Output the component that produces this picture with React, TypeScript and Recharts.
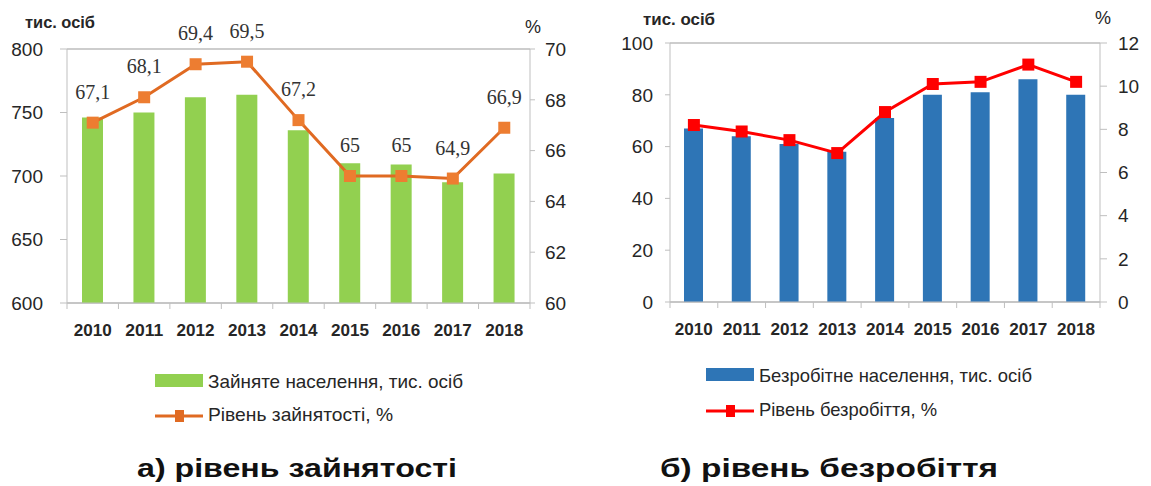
import React from 'react'
import {
  ComposedChart,
  Bar,
  Line,
  XAxis,
  YAxis,
  CartesianGrid,
  LabelList
} from 'recharts'

const years = ['2010', '2011', '2012', '2013', '2014', '2015', '2016', '2017', '2018']

// а) зайнятість
const employed = [746, 750, 762, 764, 736, 710, 709, 695, 702]
const employmentRate = [67.1, 68.1, 69.4, 69.5, 67.2, 65, 65, 64.9, 66.9]
const employedTicks = [600, 650, 700, 750, 800]
const employmentRateTicks = [60, 62, 64, 66, 68, 70]

// б) безробіття
const unemployed = [67, 64, 61, 58, 71, 80, 81, 86, 80]
const unemploymentRate = [8.2, 7.9, 7.5, 6.9, 8.8, 10.1, 10.2, 11.0, 10.2]
const unemployedTicks = [0, 20, 40, 60, 80, 100]
const unemploymentRateTicks = [0, 2, 4, 6, 8, 10, 12]

const employmentData = years.map((y, i) => ({ year: y, bar: employed[i], rate: employmentRate[i] }))
const unemploymentData = years.map((y, i) => ({ year: y, bar: unemployed[i], rate: unemploymentRate[i] }))

const sans = '"Liberation Sans", Arial, sans-serif'
const axisColor = '#BFBFBF'
const textColor = '#262626'

const SquareDot = (color: string, size: number) => (props: any) => {
  const { cx, cy, index } = props
  if (cx == null || cy == null) return <g key={index} />
  return <rect key={index} x={cx - size / 2} y={cy - size / 2} width={size} height={size} fill={color} />
}

const RateLabel = (props: any) => {
  const { x, y, value } = props
  return (
    <text
      x={x}
      y={y - 31}
      textAnchor="middle"
      dominantBaseline="central"
      fill="#333"
      style={{ fontFamily: '"Liberation Serif", serif', fontSize: 20 }}
    >
      {String(value).replace('.', ',')}
    </text>
  )
}

// year label plus tick marks on the category boundaries
const YearTick = (halfBand: number, count: number) => (props: any) => {
  const { x, y, payload, index } = props
  return (
    <g>
      <line x1={x - halfBand} x2={x - halfBand} y1={y} y2={y + 6} stroke={axisColor} />
      {index === count - 1 && <line x1={x + halfBand} x2={x + halfBand} y1={y} y2={y + 6} stroke={axisColor} />}
      <text x={x} y={y + 27} textAnchor="middle" dominantBaseline="central" fill={textColor}
        style={{ fontFamily: sans, fontSize: 16.5, fontWeight: 'bold' }} textLength={38} lengthAdjust="spacingAndGlyphs">
        {payload.value}
      </text>
    </g>
  )
}

interface PanelProps {
  data: { year: string; bar: number; rate: number }[]
  leftTicks: number[]
  rightTicks: number[]
  barColor: string
  lineColor: string
  dotColor: string
  barSize: number
  width: number
  height: number
  leftWidth: number
  rightWidth: number
  top: number
  leftTickSize: number
  leftTickMargin: number
  rightTickSize: number
  rightTickMargin: number
  labels?: boolean
}

function Panel(p: PanelProps) {
  const halfBand = (p.width - p.leftWidth - p.rightWidth) / p.data.length / 2
  return (
    <ComposedChart
      width={p.width}
      height={p.height}
      data={p.data}
      margin={{ top: p.top, right: 0, left: 0, bottom: 0 }}
    >
      <CartesianGrid vertical={false} stroke="#BDBDBD" strokeWidth={1.4} />
      <XAxis
        dataKey="year"
        height={40}
        stroke={axisColor}
        tickLine={false}
        tickSize={0}
        tickMargin={0}
        tick={YearTick(halfBand, p.data.length)}
        interval={0}
      />
      <YAxis
        yAxisId="left"
        width={p.leftWidth}
        domain={[p.leftTicks[0], p.leftTicks[p.leftTicks.length - 1]]}
        ticks={p.leftTicks}
        stroke={axisColor}
        tick={{ fill: textColor, fontSize: 19, fontFamily: sans }}
        tickSize={p.leftTickSize}
        tickMargin={p.leftTickMargin}
      />
      <YAxis
        yAxisId="right"
        orientation="right"
        width={p.rightWidth}
        domain={[p.rightTicks[0], p.rightTicks[p.rightTicks.length - 1]]}
        ticks={p.rightTicks}
        stroke={axisColor}
        tick={{ fill: textColor, fontSize: 19, fontFamily: sans }}
        tickSize={p.rightTickSize}
        tickMargin={p.rightTickMargin}
      />
      <Bar yAxisId="left" dataKey="bar" fill={p.barColor} barSize={p.barSize} isAnimationActive={false} />
      <Line
        yAxisId="right"
        dataKey="rate"
        stroke={p.lineColor}
        strokeWidth={3}
        dot={SquareDot(p.dotColor, 12)}
        activeDot={false}
        isAnimationActive={false}
      >
        {p.labels && <LabelList dataKey="rate" content={<RateLabel />} />}
      </Line>
    </ComposedChart>
  )
}

function Legend2({ x, rowY, barColor, lineColor, barText, lineText, barLen, lineLen }: {
  x: number; rowY: [number, number]; barColor: string; lineColor: string
  barText: string; lineText: string; barLen: number; lineLen: number
}) {
  const fs = { fontFamily: sans, fontSize: 19 }
  return (
    <g>
      <rect x={x} y={rowY[0] - 7} width={48} height={13} fill={barColor} />
      <text x={x + 53} y={rowY[0] + 7} fill={textColor} style={fs} textLength={barLen} lengthAdjust="spacingAndGlyphs">
        {barText}
      </text>
      <line x1={x} x2={x + 48} y1={rowY[1] + 2} y2={rowY[1] + 2} stroke={lineColor} strokeWidth={3} />
      <rect x={x + 20} y={rowY[1] - 4} width={9} height={12} fill={lineColor} />
      <text x={x + 53} y={rowY[1] + 7} fill={textColor} style={fs} textLength={lineLen} lengthAdjust="spacingAndGlyphs">
        {lineText}
      </text>
    </g>
  )
}

export default function App() {
  return (
    <div style={{ position: 'absolute', left: 0, top: 0, width: 1151, height: 486, background: '#fff', overflow: 'hidden' }}>
      {/* а) */}
      <div style={{ position: 'absolute', left: 0, top: 0 }}>
        <Panel
          data={employmentData}
          leftTicks={employedTicks}
          rightTicks={employmentRateTicks}
          barColor="#92D050"
          lineColor="#E06A22"
          dotColor="#ED7D31"
          barSize={21}
          width={580}
          height={343}
          leftWidth={67}
          rightWidth={50}
          top={49}
          leftTickSize={7}
          leftTickMargin={17}
          rightTickSize={5}
          rightTickMargin={10}
          labels
        />
      </div>

      {/* б) */}
      <div style={{ position: 'absolute', left: 580, top: 0 }}>
        <Panel
          data={unemploymentData}
          leftTicks={unemployedTicks}
          rightTicks={unemploymentRateTicks}
          barColor="#2E75B6"
          lineColor="#FF0000"
          dotColor="#FF0000"
          barSize={19}
          width={571}
          height={342}
          leftWidth={90}
          rightWidth={51}
          top={43}
          leftTickSize={5}
          leftTickMargin={12}
          rightTickSize={7}
          rightTickMargin={11}
        />
      </div>

      <svg width={1151} height={486} style={{ position: 'absolute', left: 0, top: 0, pointerEvents: 'none' }}>
        <text x={25} y={28} fill={textColor} style={{ fontFamily: sans, fontSize: 16, fontWeight: 'bold' }} textLength={70} lengthAdjust="spacingAndGlyphs">тис. осіб</text>
        <text x={525} y={33} fill={textColor} style={{ fontFamily: sans, fontSize: 18 }}>%</text>
        <text x={643} y={25} fill={textColor} style={{ fontFamily: sans, fontSize: 16, fontWeight: 'bold' }} textLength={72} lengthAdjust="spacingAndGlyphs">тис. осіб</text>
        <text x={1095} y={24} fill={textColor} style={{ fontFamily: sans, fontSize: 18 }}>%</text>

        <Legend2
          x={155}
          rowY={[381, 414]}
          barColor="#92D050"
          lineColor="#E06A22"
          barText="Зайняте населення, тис. осіб"
          lineText="Рівень зайнятості, %"
          barLen={255}
          lineLen={185}
        />
        <Legend2
          x={706}
          rowY={[375, 409]}
          barColor="#2E75B6"
          lineColor="#FF0000"
          barText="Безробітне населення, тис. осіб"
          lineText="Рівень безробіття, %"
          barLen={273}
          lineLen={178}
        />

        <text x={137} y={477} fill="#111" style={{ fontFamily: sans, fontSize: 25, fontWeight: 'bold' }} textLength={320} lengthAdjust="spacingAndGlyphs">а) рівень зайнятості</text>
        <text x={660} y={477} fill="#111" style={{ fontFamily: sans, fontSize: 25, fontWeight: 'bold' }} textLength={338} lengthAdjust="spacingAndGlyphs">б) рівень безробіття</text>
      </svg>
    </div>
  )
}
